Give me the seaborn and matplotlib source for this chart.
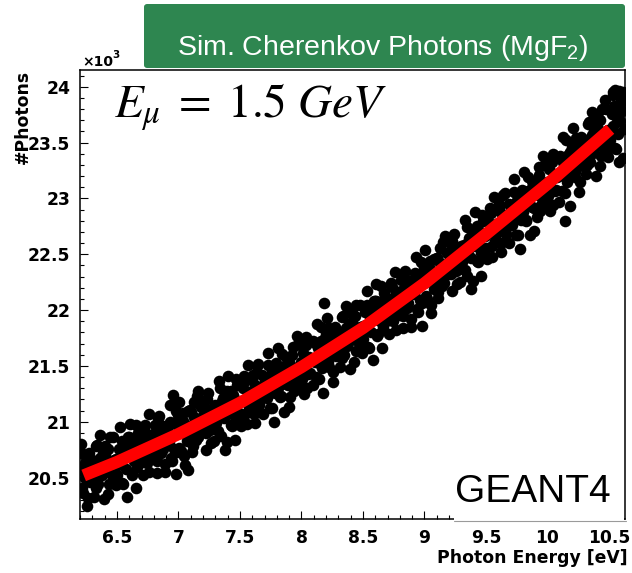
import matplotlib
matplotlib.use("Agg")
import matplotlib.pyplot as plt
from matplotlib.patches import FancyBboxPatch, Rectangle
from matplotlib.lines import Line2D
from matplotlib.ticker import MultipleLocator, FixedLocator, FixedFormatter
import pandas as pd
import seaborn as sns

# Simulated Cherenkov photon yield per photon-energy bin (counts in units of 10^3)
energy_ev = [
    6.204, 6.216, 6.227, 6.238, 6.249, 6.261, 6.272, 6.283, 6.294,
    6.309, 6.321, 6.333, 6.342, 6.355, 6.366, 6.377, 6.389, 6.398,
    6.402, 6.413, 6.424, 6.436, 6.447, 6.458, 6.469, 6.481, 6.492,
    6.504, 6.516, 6.527, 6.538, 6.549, 6.561, 6.572, 6.583, 6.594,
    6.609, 6.621, 6.633, 6.642, 6.655, 6.666, 6.677, 6.689, 6.698,
    6.702, 6.713, 6.724, 6.736, 6.747, 6.758, 6.769, 6.781, 6.792,
    6.804, 6.816, 6.827, 6.838, 6.849, 6.861, 6.872, 6.883, 6.894,
    6.909, 6.921, 6.933, 6.942, 6.955, 6.966, 6.977, 6.989, 6.998,
    7.002, 7.013, 7.024, 7.036, 7.047, 7.058, 7.069, 7.081, 7.092,
    7.104, 7.116, 7.127, 7.138, 7.149, 7.161, 7.172, 7.183, 7.194,
    7.209, 7.221, 7.233, 7.242, 7.255, 7.266, 7.277, 7.289, 7.298,
    7.302, 7.313, 7.324, 7.336, 7.347, 7.358, 7.369, 7.381, 7.392,
    7.404, 7.416, 7.427, 7.438, 7.449, 7.461, 7.472, 7.483, 7.494,
    7.509, 7.521, 7.533, 7.542, 7.555, 7.566, 7.577, 7.589, 7.598,
    7.602, 7.613, 7.624, 7.636, 7.647, 7.658, 7.669, 7.681, 7.692,
    7.704, 7.716, 7.727, 7.738, 7.749, 7.761, 7.772, 7.783, 7.794,
    7.809, 7.821, 7.833, 7.842, 7.855, 7.866, 7.877, 7.889, 7.898,
    7.902, 7.913, 7.924, 7.936, 7.947, 7.958, 7.969, 7.981, 7.992,
    8.004, 8.016, 8.027, 8.038, 8.049, 8.061, 8.072, 8.083, 8.094,
    8.109, 8.121, 8.133, 8.142, 8.155, 8.166, 8.177, 8.189, 8.198,
    8.202, 8.213, 8.224, 8.236, 8.247, 8.258, 8.269, 8.281, 8.292,
    8.304, 8.316, 8.327, 8.338, 8.349, 8.361, 8.372, 8.383, 8.394,
    8.409, 8.421, 8.433, 8.442, 8.455, 8.466, 8.477, 8.489, 8.498,
    8.502, 8.513, 8.524, 8.536, 8.547, 8.558, 8.569, 8.581, 8.592,
    8.604, 8.616, 8.627, 8.638, 8.649, 8.661, 8.672, 8.683, 8.694,
    8.709, 8.721, 8.733, 8.742, 8.755, 8.766, 8.777, 8.789, 8.798,
    8.802, 8.813, 8.824, 8.836, 8.847, 8.858, 8.869, 8.881, 8.892,
    8.904, 8.916, 8.927, 8.938, 8.949, 8.961, 8.972, 8.983, 8.994,
    9.009, 9.021, 9.033, 9.042, 9.055, 9.066, 9.077, 9.089, 9.098,
    9.102, 9.113, 9.124, 9.136, 9.147, 9.158, 9.169, 9.181, 9.192,
    9.204, 9.216, 9.227, 9.238, 9.249, 9.261, 9.272, 9.283, 9.294,
    9.309, 9.321, 9.333, 9.342, 9.355, 9.366, 9.377, 9.389, 9.398,
    9.402, 9.413, 9.424, 9.436, 9.447, 9.458, 9.469, 9.481, 9.492,
    9.504, 9.516, 9.527, 9.538, 9.549, 9.561, 9.572, 9.583, 9.594,
    9.609, 9.621, 9.633, 9.642, 9.655, 9.666, 9.677, 9.689, 9.698,
    9.702, 9.713, 9.724, 9.736, 9.747, 9.758, 9.769, 9.781, 9.792,
    9.804, 9.816, 9.827, 9.838, 9.849, 9.861, 9.872, 9.883, 9.894,
    9.909, 9.921, 9.933, 9.942, 9.955, 9.966, 9.977, 9.989, 9.998,
    10.002, 10.013, 10.024, 10.036, 10.047, 10.058, 10.069, 10.081, 10.092,
    10.104, 10.116, 10.127, 10.138, 10.149, 10.161, 10.172, 10.183, 10.194,
    10.209, 10.221, 10.233, 10.242, 10.255, 10.266, 10.277, 10.289, 10.298,
    10.302, 10.313, 10.324, 10.336, 10.347, 10.358, 10.369, 10.381, 10.392,
    10.404, 10.416, 10.427, 10.438, 10.449, 10.461, 10.472, 10.483, 10.494,
    10.509, 10.521, 10.533, 10.542, 10.555, 10.566, 10.577, 10.589, 10.598,
    10.612, 10.605, 10.618, 10.610, 7.075, 6.955, 8.180, 10.140, 10.550,
    10.470, 10.530, 10.580, 10.600,
    6.207, 6.224, 6.241, 6.257, 6.274, 6.291,
    6.311, 6.329, 6.345, 6.363, 6.379, 6.396,
    6.407, 6.424, 6.441, 6.457, 6.474, 6.491,
    6.511, 6.529, 6.545, 6.563, 6.579, 6.596,
    6.607, 6.624, 6.641, 6.657, 6.674, 6.691,
    6.711, 6.729, 6.745, 6.763, 6.779, 6.796,
    6.807, 6.824, 6.841, 6.857, 6.874, 6.891,
    6.911, 6.929, 6.945, 6.963, 6.979, 6.996,
    7.007, 7.024, 7.041, 7.057, 7.074, 7.091,
    7.111, 7.129, 7.145, 7.163, 7.179, 7.196,
    7.207, 7.224, 7.241, 7.257, 7.274, 7.291,
    7.311, 7.329, 7.345, 7.363, 7.379, 7.396,
    7.407, 7.424, 7.441, 7.457, 7.474, 7.491,
    7.511, 7.529, 7.545, 7.563, 7.579, 7.596,
    7.607, 7.624, 7.641, 7.657, 7.674, 7.691,
    7.711, 7.729, 7.745, 7.763, 7.779, 7.796,
    7.807, 7.824, 7.841, 7.857, 7.874, 7.891,
    7.911, 7.929, 7.945, 7.963, 7.979, 7.996,
    8.007, 8.024, 8.041, 8.057, 8.074, 8.091,
    8.111, 8.129, 8.145, 8.163, 8.179, 8.196,
    8.207, 8.224, 8.241, 8.257, 8.274, 8.291,
    8.311, 8.329, 8.345, 8.363, 8.379, 8.396,
    8.407, 8.424, 8.441, 8.457, 8.474, 8.491,
    8.511, 8.529, 8.545, 8.563, 8.579, 8.596,
    8.607, 8.624, 8.641, 8.657, 8.674, 8.691,
    8.711, 8.729, 8.745, 8.763, 8.779, 8.796,
    8.807, 8.824, 8.841, 8.857, 8.874, 8.891,
    8.911, 8.929, 8.945, 8.963, 8.979, 8.996,
    9.007, 9.024, 9.041, 9.057, 9.074, 9.091,
    9.111, 9.129, 9.145, 9.163, 9.179, 9.196,
    9.207, 9.224, 9.241, 9.257, 9.274, 9.291,
    9.311, 9.329, 9.345, 9.363, 9.379, 9.396,
    9.407, 9.424, 9.441, 9.457, 9.474, 9.491,
    9.511, 9.529, 9.545, 9.563, 9.579, 9.596,
    9.607, 9.624, 9.641, 9.657, 9.674, 9.691,
    9.711, 9.729, 9.745, 9.763, 9.779, 9.796,
    9.807, 9.824, 9.841, 9.857, 9.874, 9.891,
    9.911, 9.929, 9.945, 9.963, 9.979, 9.996,
    10.007, 10.024, 10.041, 10.057, 10.074, 10.091,
    10.111, 10.129, 10.145, 10.163, 10.179, 10.196,
    10.207, 10.224, 10.241, 10.257, 10.274, 10.291,
    10.311, 10.329, 10.345, 10.363, 10.379, 10.396,
    10.407, 10.424, 10.441, 10.457, 10.474, 10.491,
    10.511, 10.529, 10.545, 10.563, 10.579, 10.596,
]
photons_k = [
    20.57, 20.41, 20.71, 20.50, 20.62, 20.32, 20.54, 20.46, 20.66,
    20.48, 20.63, 20.41, 20.79, 20.55, 20.68, 20.52, 20.72, 20.31,
    20.70, 20.58, 20.76, 20.44, 20.64, 20.52, 20.86, 20.49, 20.67,
    20.52, 20.76, 20.65, 20.83, 20.44, 20.72, 20.58, 20.69, 20.86,
    20.83, 20.52, 20.78, 20.65, 20.97, 20.60, 20.71, 20.87, 20.68,
    20.80, 20.64, 20.94, 20.73, 20.85, 20.55, 20.77, 20.69, 20.89,
    20.72, 20.87, 20.65, 21.03, 20.79, 20.92, 20.76, 20.96, 20.55,
    20.94, 20.82, 21.00, 20.68, 20.88, 20.76, 21.10, 20.73, 20.91,
    20.77, 21.01, 20.90, 21.08, 20.69, 20.97, 20.83, 20.94, 21.11,
    21.09, 20.78, 21.04, 20.91, 21.23, 20.86, 20.97, 21.13, 20.94,
    21.06, 20.90, 21.20, 20.99, 21.11, 20.81, 21.03, 20.95, 21.15,
    20.99, 21.14, 20.92, 21.30, 21.06, 21.19, 21.03, 21.23, 20.82,
    21.22, 21.10, 21.28, 20.96, 21.16, 21.04, 21.38, 21.01, 21.19,
    21.06, 21.30, 21.19, 21.37, 20.98, 21.26, 21.12, 21.23, 21.40,
    21.38, 21.07, 21.33, 21.20, 21.52, 21.15, 21.26, 21.42, 21.23,
    21.37, 21.21, 21.51, 21.30, 21.42, 21.12, 21.34, 21.26, 21.46,
    21.30, 21.45, 21.23, 21.61, 21.37, 21.50, 21.34, 21.54, 21.13,
    21.54, 21.42, 21.60, 21.28, 21.48, 21.36, 21.70, 21.33, 21.51,
    21.38, 21.62, 21.51, 21.69, 21.30, 21.58, 21.44, 21.55, 21.72,
    21.71, 21.40, 21.66, 21.53, 21.85, 21.48, 21.59, 21.75, 21.56,
    21.70, 21.54, 21.84, 21.63, 21.75, 21.45, 21.67, 21.59, 21.79,
    21.64, 21.79, 21.57, 21.95, 21.71, 21.84, 21.68, 21.88, 21.47,
    21.89, 21.77, 21.95, 21.63, 21.83, 21.71, 22.05, 21.68, 21.86,
    21.74, 21.98, 21.87, 22.05, 21.66, 21.94, 21.80, 21.91, 22.08,
    22.08, 21.77, 22.03, 21.90, 22.22, 21.85, 21.96, 22.12, 21.93,
    22.07, 21.91, 22.21, 22.00, 22.12, 21.82, 22.04, 21.96, 22.16,
    22.02, 22.17, 21.95, 22.33, 22.09, 22.22, 22.06, 22.26, 21.85,
    22.27, 22.15, 22.33, 22.01, 22.21, 22.09, 22.43, 22.06, 22.24,
    22.13, 22.37, 22.26, 22.44, 22.05, 22.33, 22.19, 22.30, 22.47,
    22.47, 22.16, 22.42, 22.29, 22.61, 22.24, 22.35, 22.51, 22.32,
    22.48, 22.32, 22.62, 22.41, 22.53, 22.23, 22.45, 22.37, 22.57,
    22.43, 22.58, 22.36, 22.74, 22.50, 22.63, 22.47, 22.67, 22.26,
    22.69, 22.57, 22.75, 22.43, 22.63, 22.51, 22.85, 22.48, 22.66,
    22.56, 22.80, 22.69, 22.87, 22.48, 22.76, 22.62, 22.73, 22.90,
    22.91, 22.60, 22.86, 22.73, 23.05, 22.68, 22.79, 22.95, 22.76,
    22.92, 22.76, 23.06, 22.85, 22.97, 22.67, 22.89, 22.81, 23.01,
    22.88, 23.03, 22.81, 23.19, 22.95, 23.08, 22.92, 23.12, 22.71,
    23.15, 23.03, 23.21, 22.89, 23.09, 22.97, 23.31, 22.94, 23.12,
    23.02, 23.26, 23.15, 23.33, 22.94, 23.22, 23.08, 23.19, 23.36,
    23.38, 23.07, 23.33, 23.20, 23.52, 23.15, 23.26, 23.42, 23.23,
    23.40, 23.24, 23.54, 23.33, 23.45, 23.15, 23.37, 23.29, 23.49,
    23.37, 23.52, 23.30, 23.68, 23.44, 23.57, 23.41, 23.61, 23.20,
    23.64, 23.52, 23.70, 23.38, 23.58, 23.46, 23.80, 23.43, 23.61,
    23.52, 23.76, 23.65, 23.83, 23.44, 23.72, 23.58, 23.69, 23.86,
    23.95, 23.78, 23.62, 23.36, 20.57, 21.24, 22.06, 22.80, 23.97,
    23.88, 23.93, 23.96, 23.90,
    20.80, 20.36, 20.63, 20.25, 20.72, 20.47,
    20.33, 20.78, 20.44, 20.88, 20.55, 20.65,
    20.78, 20.35, 20.86, 20.53, 20.66, 20.43,
    20.61, 20.95, 20.45, 20.79, 20.33, 20.86,
    20.98, 20.54, 20.81, 20.41, 20.90, 20.65,
    20.52, 20.97, 20.63, 21.07, 20.74, 20.84,
    20.97, 20.54, 21.05, 20.72, 20.85, 20.62,
    20.81, 21.15, 20.65, 20.99, 20.53, 21.06,
    21.18, 20.74, 21.01, 20.61, 21.10, 20.85,
    20.73, 21.18, 20.84, 21.28, 20.95, 21.05,
    21.18, 20.75, 21.26, 20.93, 21.06, 20.83,
    21.03, 21.37, 20.87, 21.21, 20.75, 21.28,
    21.41, 20.97, 21.24, 20.84, 21.33, 21.08,
    20.96, 21.41, 21.07, 21.51, 21.18, 21.28,
    21.42, 20.99, 21.50, 21.17, 21.30, 21.07,
    21.28, 21.62, 21.12, 21.46, 21.00, 21.53,
    21.66, 21.22, 21.49, 21.09, 21.58, 21.33,
    21.22, 21.67, 21.33, 21.77, 21.44, 21.54,
    21.68, 21.25, 21.76, 21.43, 21.56, 21.33,
    21.54, 21.88, 21.38, 21.72, 21.26, 21.79,
    21.93, 21.49, 21.76, 21.36, 21.85, 21.60,
    21.49, 21.94, 21.60, 22.04, 21.71, 21.81,
    21.97, 21.54, 22.05, 21.72, 21.85, 21.62,
    21.83, 22.17, 21.67, 22.01, 21.55, 22.08,
    22.23, 21.79, 22.06, 21.66, 22.15, 21.90,
    21.79, 22.24, 21.90, 22.34, 22.01, 22.11,
    22.27, 21.84, 22.35, 22.02, 22.15, 21.92,
    22.14, 22.48, 21.98, 22.32, 21.86, 22.39,
    22.54, 22.10, 22.37, 21.97, 22.46, 22.21,
    22.11, 22.56, 22.22, 22.66, 22.33, 22.43,
    22.60, 22.17, 22.68, 22.35, 22.48, 22.25,
    22.47, 22.81, 22.31, 22.65, 22.19, 22.72,
    22.88, 22.44, 22.71, 22.31, 22.80, 22.55,
    22.46, 22.91, 22.57, 23.01, 22.68, 22.78,
    22.95, 22.52, 23.03, 22.70, 22.83, 22.60,
    22.83, 23.17, 22.67, 23.01, 22.55, 23.08,
    23.24, 22.80, 23.07, 22.67, 23.16, 22.91,
    22.83, 23.28, 22.94, 23.38, 23.05, 23.15,
    23.32, 22.89, 23.40, 23.07, 23.20, 22.97,
    23.21, 23.55, 23.05, 23.39, 22.93, 23.46,
    23.63, 23.19, 23.46, 23.06, 23.55, 23.30,
    23.22, 23.67, 23.33, 23.77, 23.44, 23.54,
    23.72, 23.29, 23.80, 23.47, 23.60, 23.37,
    23.61, 23.95, 23.45, 23.79, 23.33, 23.86,
]

# Fitted yield curve
fit_energy_ev = [6.23, 6.5, 7.0, 7.5, 8.0, 8.5, 9.0, 9.5, 10.0, 10.51]
fit_photons_k = [20.52, 20.64, 20.89, 21.17, 21.49, 21.84, 22.24, 22.68, 23.13, 23.62]

x_ticks = [6.5, 7.0, 7.5, 8.0, 8.5, 9.0, 9.5, 10.0, 10.5]
x_tick_labels = ["6.5", "7", "7.5", "8", "8.5", "9", "9.5", "10", "10.5"]
y_ticks = [20.5, 21.0, 21.5, 22.0, 22.5, 23.0, 23.5, 24.0]
y_tick_labels = ["20.5", "21", "21.5", "22", "22.5", "23", "23.5", "24"]

sns.set_style("ticks")
plt.rcParams.update({
    "font.family": ["DejaVu Sans"],
    "text.color": "black",
    "axes.labelcolor": "black",
    "xtick.color": "black",
    "ytick.color": "black",
    "xtick.labelcolor": "black",
    "ytick.labelcolor": "black",
    "mathtext.fontset": "custom",
    "mathtext.rm": "Liberation Sans",
    "mathtext.it": "Liberation Sans:italic",
    "mathtext.bf": "Liberation Sans:bold",
})

W, H = 632, 573
fig = plt.figure(figsize=(W / 100, H / 100), dpi=100)
fig.patch.set_facecolor("white")


def fx(px):
    return px / W


def fy(py):
    return 1 - py / H


ax = fig.add_axes([fx(80), fy(519), fx(625) - fx(80), fy(70) - fy(519)])
ax.set_facecolor("white")

points = pd.DataFrame({"energy": energy_ev, "photons": photons_k})
fit = pd.DataFrame({"energy": fit_energy_ev, "photons": fit_photons_k})

sns.scatterplot(data=points, x="energy", y="photons", ax=ax, color="black",
                s=70, linewidth=0, zorder=2, legend=False)
sns.lineplot(data=fit, x="energy", y="photons", ax=ax, color="#ff0000",
             linewidth=8.8, estimator=None, zorder=3, legend=False)
ax.lines[-1].set_solid_capstyle("butt")

ax.set_xlim(6.2, 10.63)
ax.set_ylim(20.13, 24.15)
ax.xaxis.set_major_locator(FixedLocator(x_ticks))
ax.xaxis.set_major_formatter(FixedFormatter(x_tick_labels))
ax.yaxis.set_major_locator(FixedLocator(y_ticks))
ax.yaxis.set_major_formatter(FixedFormatter(y_tick_labels))
ax.xaxis.set_minor_locator(MultipleLocator(0.1))
ax.yaxis.set_minor_locator(MultipleLocator(0.1))
ax.tick_params(which="both", direction="in", top=False, right=False,
               color="black", labelcolor="black", width=0.8)
ax.tick_params(which="major", length=6, labelsize=12.3, pad=7)
ax.tick_params(which="minor", length=3)
for lab in ax.get_xticklabels() + ax.get_yticklabels():
    lab.set_fontweight("bold")
for sp in ax.spines.values():
    sp.set_visible(True)
    sp.set_color("black")
    sp.set_linewidth(1.1)
ax.set_xlabel("")
ax.set_ylabel("")

# Axis titles in the ROOT style
fig.text(fx(23), fy(70), "#Photons", rotation=90, ha="center", va="top",
         fontsize=12.4, fontweight="bold", color="black")
fig.text(fx(628), fy(563), "Photon Energy [eV]", ha="right", va="baseline",
         fontsize=12.4, fontweight="bold", color="black")
fig.text(fx(82), fy(66), "\u00d710", ha="left", va="baseline",
         fontsize=10, fontweight="bold", color="black")
fig.text(fx(112.5), fy(58), "3", ha="left", va="baseline",
         fontsize=7.5, fontweight="bold", color="black")

# Title banner
banner = FancyBboxPatch((fx(144), fy(68)), fx(625) - fx(144), fy(4) - fy(68),
                        boxstyle="round,pad=0,rounding_size=0.005",
                        transform=fig.transFigure, facecolor="#2e8650",
                        edgecolor="none", zorder=4)
fig.add_artist(banner)
fig.text(fx(383), fy(55), "Sim. Cherenkov Photons (MgF$_2$)", color="white",
         fontsize=20.5, family="Liberation Sans", ha="center", va="baseline",
         zorder=5)

# Muon energy annotation
fig.text(fx(114), fy(118), r"$E_{\mu}\;=\;1.5\ GeV$", fontsize=34,
         math_fontfamily="stix", ha="left", va="baseline", zorder=5,
         color="black")

# GEANT4 label box
fig.add_artist(Rectangle((fx(454), fy(521.5)), fx(624.2) - fx(454),
                         fy(443) - fy(521.5), transform=fig.transFigure,
                         facecolor="white", edgecolor="none", zorder=5))
fig.add_artist(Line2D([fx(454), fx(626)], [fy(521), fy(521)],
                      transform=fig.transFigure, color="#9a9a9a",
                      linewidth=0.8, zorder=6))
fig.text(fx(455), fy(502), "GEANT4", fontsize=28, family="Liberation Sans",
         ha="left", va="baseline", zorder=7, color="black")

fig.savefig("out.png", dpi=100, facecolor="white")
